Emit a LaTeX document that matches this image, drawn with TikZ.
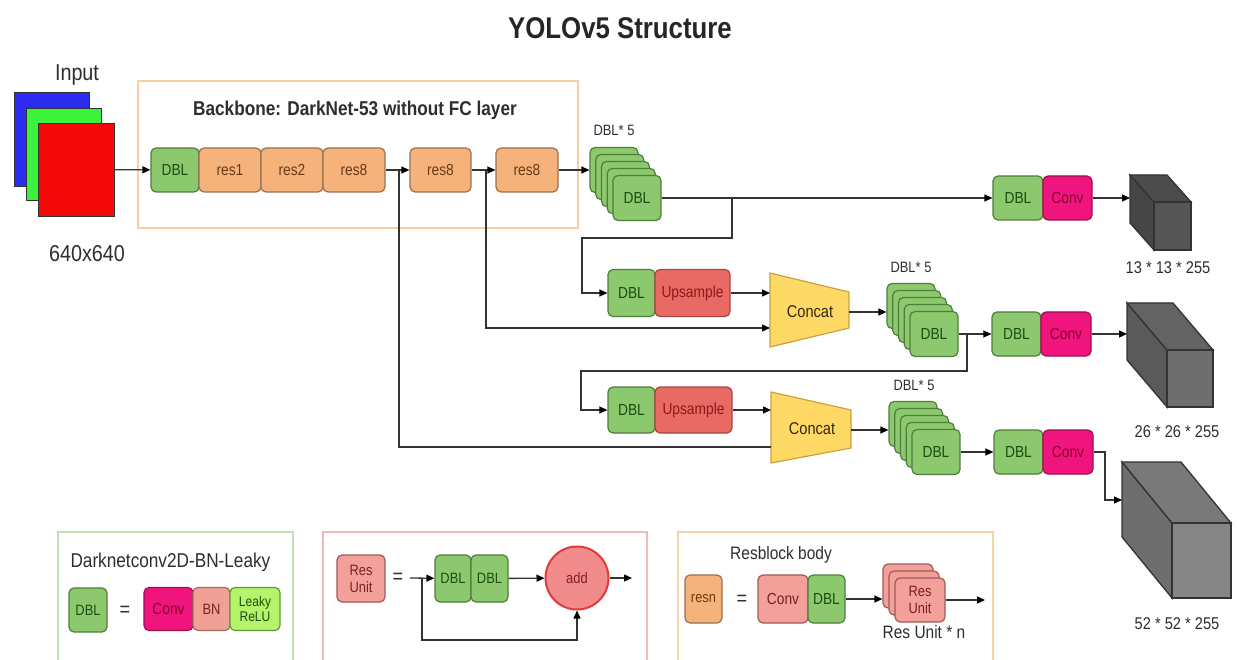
\documentclass[tikz,border=0pt]{standalone}
\usepackage{fontspec}
\setmainfont{Liberation Sans}[FakeStretch=0.86]
\usetikzlibrary{arrows.meta}
\definecolor{dblfill}{HTML}{8CC96E}
\definecolor{dblline}{HTML}{4F7D3A}
\definecolor{dbltext}{HTML}{1E4D10}
\definecolor{resfill}{HTML}{F6B27B}
\definecolor{resline}{HTML}{9A7050}
\definecolor{restext}{HTML}{6B3A12}
\definecolor{convfill}{HTML}{F0157E}
\definecolor{convline}{HTML}{A0104A}
\definecolor{convtext}{HTML}{8A0030}
\definecolor{upfill}{HTML}{E96A64}
\definecolor{upline}{HTML}{A84440}
\definecolor{uptext}{HTML}{8C1A1A}
\definecolor{bnfill}{HTML}{EFA196}
\definecolor{bnline}{HTML}{A56A60}
\definecolor{relufill}{HTML}{B4F36A}
\definecolor{reluline}{HTML}{5E9A3A}
\definecolor{unitfill}{HTML}{F3A09B}
\definecolor{unitline}{HTML}{A05A56}
\definecolor{unittext}{HTML}{7A2020}
\definecolor{catfill}{HTML}{FFD966}
\definecolor{catline}{HTML}{C9A23C}
\definecolor{addfill}{HTML}{F28C8C}
\definecolor{addline}{HTML}{E23A3A}
\definecolor{linegray}{HTML}{333333}
\definecolor{labelgray}{HTML}{2E2E2E}
\definecolor{boneline}{HTML}{F7CFA2}
\definecolor{lgreen}{HTML}{BEE4AE}
\definecolor{lpink}{HTML}{F5B8B8}
\definecolor{lorange}{HTML}{F7D2A8}
\definecolor{inblue}{HTML}{2B2BF2}
\definecolor{ingreen}{HTML}{3DF23D}
\definecolor{inred}{HTML}{F50A0A}
\definecolor{cubeA}{HTML}{555555}
\definecolor{cubeB}{HTML}{6E6E6E}
\definecolor{cubeC}{HTML}{868686}

\newcommand{\fmapcube}[7]{%
  \filldraw[draw=linegray, line width=1.3pt, fill=#7!82!black] (#1,#2) -- ++(#5,#6) -- ++(0,#4) -- ++(-#5,-#6) -- cycle;
  \filldraw[draw=linegray, line width=1.3pt, fill=#7!90!black] (#1,#2) -- ++(#3,0) -- ++(#5,#6) -- ++(-#3,0) -- cycle;
  \filldraw[draw=linegray, line width=1.3pt, fill=#7] (#1,#2) ++(#5,#6) rectangle ++(#3,#4);}

\begin{document}
\begin{tikzpicture}[x=1pt, y=-1pt,
    blk/.style={draw, rounded corners=5pt, line width=1.2pt, inner sep=0pt, minimum height=44pt, font=\fontsize{16}{18}\selectfont},
    dbl/.style={blk, fill=dblfill, draw=dblline, text=dbltext, minimum width=50pt},
    resb/.style={blk, fill=resfill, draw=resline, text=restext, minimum width=62pt},
    conv/.style={blk, fill=convfill, draw=convline, text=convtext, minimum width=50pt},
    ups/.style={blk, fill=upfill, draw=upline, text=uptext, minimum width=77pt},
    unit/.style={blk, fill=unitfill, draw=unitline, text=unittext, align=center},
    stackl/.style={minimum width=48pt, minimum height=45pt},
    concat/.style={draw=catline, fill=catfill, line width=1.2pt},
    link/.style={line width=1.3pt, draw=linegray, -{Triangle[length=8pt,width=7pt,color=black]}},
    wire/.style={line width=1.3pt, draw=linegray},
    lbl/.style={text=labelgray, font=\fontsize{17}{19}\selectfont},
    legend/.style={line width=1.5pt}]
\clip (0,0) rectangle (1237,660);
\fill[white] (0,0) rectangle (1237,660);

\node[font=\bfseries\fontsize{30}{34}\selectfont, text=black!85] (title) at (620,28) {YOLOv5 Structure};

% input image
\node[draw=linegray, line width=.8pt, fill=inblue, minimum width=75pt, minimum height=94pt] (inb) at (51.5,139) {};
\node[draw=linegray, line width=.8pt, fill=ingreen, minimum width=75pt, minimum height=92pt] (ing) at (63.5,154) {};
\node[draw=linegray, line width=.8pt, fill=inred, minimum width=76pt, minimum height=93pt] (inr) at (76,169.5) {};
\node[text=labelgray, font=\fontsize{23}{26}\selectfont] (inlbl) at (77,75) {Input};
\node[text=labelgray, font=\fontsize{23}{26}\selectfont] (sizelbl) at (87,254) {640x640};

% backbone
\draw[draw=boneline, line width=2pt] (138,81) rectangle (578,228);
\node[text=labelgray, font=\bfseries\fontsize{20}{23}\selectfont] (bonelbl) at (355,110) {Backbone: DarkNet-53 without FC layer};
\node[dbl, minimum width=48pt] (d0) at (175,170) {DBL};
\node[resb] (r1) at (230,170) {res1};
\node[resb] (r2) at (292,170) {res2};
\node[resb] (r3) at (354,170) {res8};
\node[resb, minimum width=61pt] (r4) at (440.5,170) {res8};
\node[resb] (r5) at (527,170) {res8};
\coordinate (j1) at (399,170);
\coordinate (j2) at (486,170);
\draw[link] (inr) -- (d0);
\draw[link] (r3) -- (r4);
\draw[link] (r4) -- (r5);

% DBL*5 stacks
\foreach \s/\x/\y in {s1/637/198, s2/934/334, s3/936/452} {
  \foreach \k in {4,3,2,1}
    \node[dbl, stackl] (\s-\k) at ({\x-5.75*\k},{\y-7*\k}) {};
  \node[dbl, stackl] (\s) at (\x,\y) {DBL};
}
\node[lbl, font=\fontsize{15}{17}\selectfont] (s1lbl) at (614,130) {DBL* 5};
\node[lbl, font=\fontsize{15}{17}\selectfont] (s2lbl) at (911,267) {DBL* 5};
\node[lbl, font=\fontsize{15}{17}\selectfont] (s3lbl) at (914,385) {DBL* 5};
\draw[link] (r5) -- (s1-4);

% upsample rows
\node[dbl, minimum width=47pt, minimum height=47pt] (u1d) at (631.5,293) {DBL};
\node[ups, minimum width=75pt, minimum height=47pt] (u1u) at (692.5,293) {Upsample};
\node[dbl, minimum width=47pt, minimum height=46pt] (u2d) at (631.5,410) {DBL};
\node[ups, minimum height=46pt] (u2u) at (693.5,410) {Upsample};

% concat
\draw[concat] (770,273) -- (849,292) -- (849,328) -- (770,347) -- cycle;
\node[text=black!75!catline, font=\fontsize{17}{20}\selectfont] (cc1) at (810,312) {Concat};
\coordinate (cc1a) at (770,293);
\coordinate (cc1b) at (770,328);
\coordinate (cc1o) at (849,312);
\draw[concat] (771,392) -- (851,410) -- (851,448) -- (771,463) -- cycle;
\node[text=black!75!catline, font=\fontsize{17}{20}\selectfont] (cc2) at (812,429) {Concat};
\coordinate (cc2a) at (771,410);
\coordinate (cc2b) at (771,447);
\coordinate (cc2o) at (851,430);

% heads
\node[dbl] (h1d) at (1018,198) {DBL};
\node[conv, minimum width=49pt] (h1c) at (1067.5,198) {Conv};
\node[dbl, minimum width=49pt] (h2d) at (1016.5,334) {DBL};
\node[conv] (h2c) at (1066,334) {Conv};
\node[dbl, minimum width=49pt] (h3d) at (1018.5,452) {DBL};
\node[conv] (h3c) at (1068,452) {Conv};

% connections
\coordinate (b1) at (732,198);
\coordinate (b2) at (967,334);
\draw[link] (s1) -- (h1d);
\draw[link] (b1) |- (582,238) |- (u1d);
\draw[link] (u1u) -- (cc1a);
\draw[link] (j2) |- (cc1b);
\draw[link] (cc1o) -- (cc1o -| s2-4.west);
\draw[link] (s2) -- (h2d);
\draw[link] (b2) |- (581,371) |- (u2d);
\draw[link] (u2u) -- (cc2a);
\draw[wire] (j1) |- (cc2b);
\draw[link] (cc2o) -- (cc2o -| s3-4.west);
\draw[link] (s3) -- (h3d);

% output feature maps
\fmapcube{1130}{175}{37}{48}{24}{27}{cubeA}
\fmapcube{1127}{303}{46}{57}{40}{47}{cubeB}
\fmapcube{1122}{462}{59}{75}{50}{61}{cubeC}
\coordinate (cb1) at (1130,198);
\coordinate (cb2) at (1127,334);
\coordinate (cb3) at (1122,500);
\draw[link] (h1c) -- (cb1);
\draw[link] (h2c) -- (cb2);
\draw[link] (h3c.east) -- (1105,452) |- (cb3);
\node[lbl] (o1lbl) at (1168,268) {13 * 13 * 255};
\node[lbl] (o2lbl) at (1177,432) {26 * 26 * 255};
\node[lbl] (o3lbl) at (1177,624) {52 * 52 * 255};

% legend: DBL
\draw[legend, draw=lgreen] (58,532) rectangle (293,680);
\node[lbl, anchor=west, font=\fontsize{20}{23}\selectfont] (l1lbl) at (67,562) {Darknetconv2D-BN-Leaky};
\node[dbl, minimum width=38pt, font=\fontsize{15}{17}\selectfont] (l1d) at (88,610) {DBL};
\node[lbl, font=\fontsize{21}{23}\selectfont] (l1eq) at (125,611) {=};
\node[conv, minimum width=49pt, minimum height=43pt, font=\fontsize{16}{18}\selectfont] (l1c) at (168.5,609) {Conv};
\node[blk, fill=bnfill, draw=bnline, text=unittext, minimum width=37pt, minimum height=43pt, font=\fontsize{15}{17}\selectfont] (l1b) at (211.5,609) {BN};
\node[blk, fill=relufill, draw=reluline, text=dbltext, minimum width=50pt, minimum height=43pt, align=center, font=\fontsize{14}{15}\selectfont] (l1r) at (255,609) {Leaky\\ReLU};

% legend: Res Unit
\draw[legend, draw=lpink] (323,532) rectangle (647,680);
\node[unit, minimum width=48pt, minimum height=47pt, font=\fontsize{15}{17}\selectfont] (l2u) at (361,578.5) {Res\\Unit};
\node[lbl, font=\fontsize{21}{23}\selectfont] (l2eq) at (398,578) {=};
\node[dbl, minimum width=36pt, minimum height=47pt, font=\fontsize{15}{17}\selectfont] (l2d1) at (453,578.5) {DBL};
\node[dbl, minimum width=37pt, minimum height=47pt, font=\fontsize{15}{17}\selectfont] (l2d2) at (489.5,578.5) {DBL};
\node[circle, draw=addline, line width=2pt, fill=addfill, text=unittext, minimum size=63pt, inner sep=0pt, font=\fontsize{15}{17}\selectfont] (l2a) at (577,578) {add};
\coordinate (l2s) at (410,578);
\coordinate (l2f) at (422,578);
\coordinate (l2e) at (632,578);
\draw[link] (l2s) -- (l2d1);
\draw[link] (l2d2) -- (l2a);
\draw[link] (l2a) -- (l2e);
\draw[link] (l2f) -- ++(0,62) -| (l2a.south);

% legend: resblock body
\draw[legend, draw=lorange] (678,532) rectangle (993,680);
\node[lbl, font=\fontsize{18}{21}\selectfont] (l3lbl) at (781,555) {Resblock body};
\node[resb, minimum width=37pt, minimum height=48pt, font=\fontsize{15}{17}\selectfont] (l3r) at (703.5,599) {resn};
\node[lbl, font=\fontsize{21}{23}\selectfont] (l3eq) at (742,600) {=};
\node[unit, minimum width=50pt, minimum height=48pt] (l3c) at (783,599) {Conv};
\node[dbl, minimum width=37pt, minimum height=48pt] (l3d) at (826.5,599) {DBL};
\foreach \k in {2,1}
  \node[unit, minimum width=50pt] (l3s-\k) at ({920-6*\k},{600-7*\k}) {};
\node[unit, minimum width=50pt, font=\fontsize{15}{17}\selectfont] (l3s) at (920,600) {Res\\Unit};
\coordinate (l3e) at (985,600);
\draw[link] (l3d) -- (l3d.east -| l3s-2.west);
\draw[link] (l3s) -- (l3e);
\node[lbl, font=\fontsize{18}{21}\selectfont] (l3n) at (924,632) {Res Unit * n};
\end{tikzpicture}
\end{document}
